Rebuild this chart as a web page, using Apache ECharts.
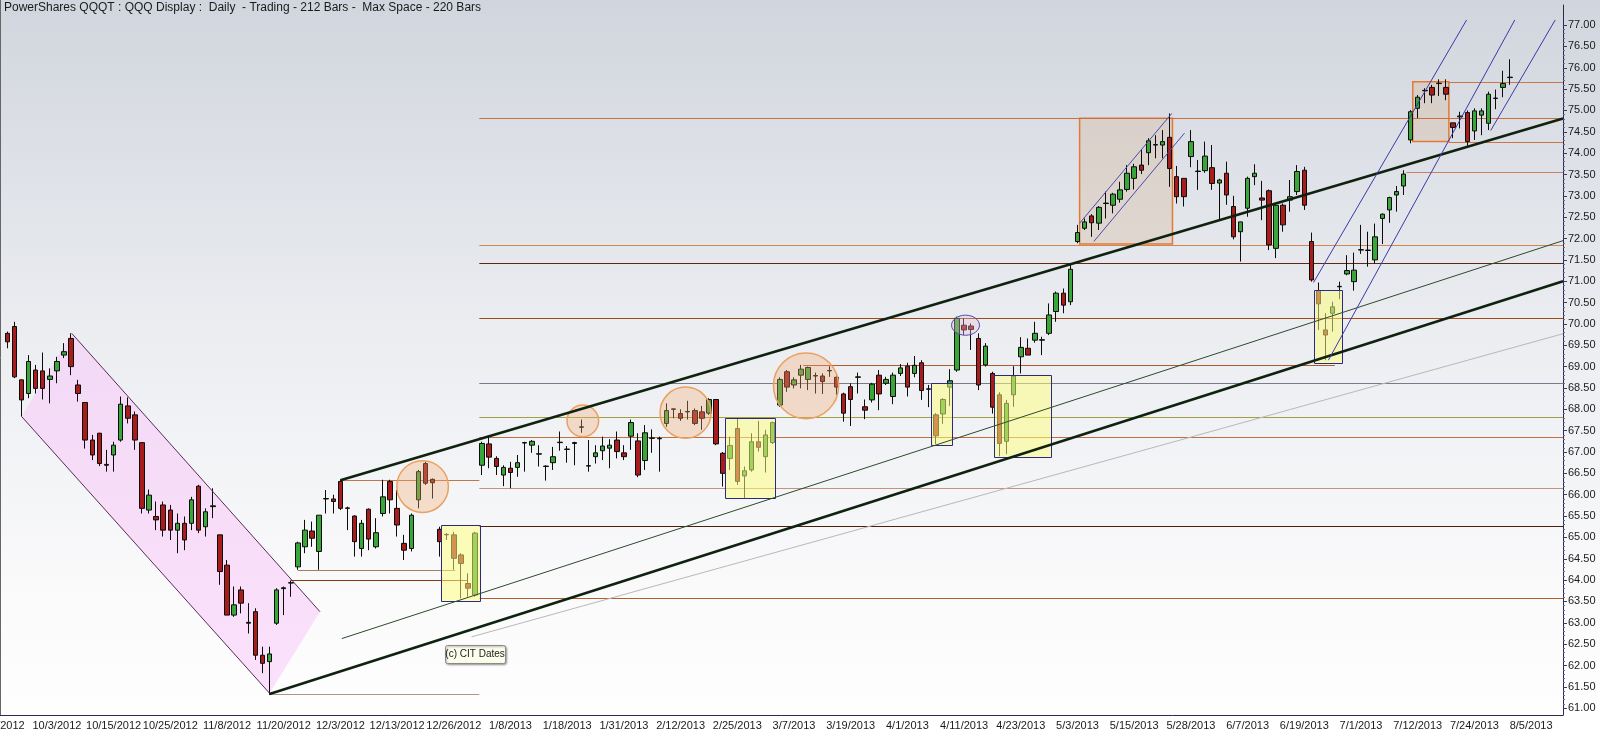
<!DOCTYPE html>
<html><head><meta charset="utf-8">
<script src="https://cdn.jsdelivr.net/npm/echarts@6/dist/echarts.min.js"></script>
<style>html,body{margin:0;padding:0;width:1600px;height:736px;overflow:hidden;background:#fff}#c{width:1600px;height:736px}</style>
</head><body><div id="c"></div>
<script>
// ---------- DATA ----------
const dates = ["9/21/2012","9/24/2012","9/25/2012","9/26/2012","9/27/2012","9/28/2012","10/1/2012","10/2/2012","10/3/2012","10/4/2012","10/5/2012","10/8/2012","10/9/2012","10/10/2012","10/11/2012","10/12/2012","10/15/2012","10/16/2012","10/17/2012","10/18/2012","10/19/2012","10/22/2012","10/23/2012","10/24/2012","10/25/2012","10/26/2012","10/31/2012","11/1/2012","11/2/2012","11/5/2012","11/6/2012","11/7/2012","11/8/2012","11/9/2012","11/12/2012","11/13/2012","11/14/2012","11/15/2012","11/16/2012","11/19/2012","11/20/2012","11/21/2012","11/23/2012","11/26/2012","11/27/2012","11/28/2012","11/29/2012","11/30/2012","12/3/2012","12/4/2012","12/5/2012","12/6/2012","12/7/2012","12/10/2012","12/11/2012","12/12/2012","12/13/2012","12/14/2012","12/17/2012","12/18/2012","12/19/2012","12/20/2012","12/21/2012","12/24/2012","12/26/2012","12/27/2012","12/28/2012","12/31/2012","1/2/2013","1/3/2013","1/4/2013","1/7/2013","1/8/2013","1/9/2013","1/10/2013","1/11/2013","1/14/2013","1/15/2013","1/16/2013","1/17/2013","1/18/2013","1/22/2013","1/23/2013","1/24/2013","1/25/2013","1/28/2013","1/29/2013","1/30/2013","1/31/2013","2/1/2013","2/4/2013","2/5/2013","2/6/2013","2/7/2013","2/8/2013","2/11/2013","2/12/2013","2/13/2013","2/14/2013","2/15/2013","2/19/2013","2/20/2013","2/21/2013","2/22/2013","2/25/2013","2/26/2013","2/27/2013","2/28/2013","3/1/2013","3/4/2013","3/5/2013","3/6/2013","3/7/2013","3/8/2013","3/11/2013","3/12/2013","3/13/2013","3/14/2013","3/15/2013","3/18/2013","3/19/2013","3/20/2013","3/21/2013","3/22/2013","3/25/2013","3/26/2013","3/27/2013","3/28/2013","4/1/2013","4/2/2013","4/3/2013","4/4/2013","4/5/2013","4/8/2013","4/9/2013","4/10/2013","4/11/2013","4/12/2013","4/15/2013","4/16/2013","4/17/2013","4/18/2013","4/19/2013","4/22/2013","4/23/2013","4/24/2013","4/25/2013","4/26/2013","4/29/2013","4/30/2013","5/1/2013","5/2/2013","5/3/2013","5/6/2013","5/7/2013","5/8/2013","5/9/2013","5/10/2013","5/13/2013","5/14/2013","5/15/2013","5/16/2013","5/17/2013","5/20/2013","5/21/2013","5/22/2013","5/23/2013","5/24/2013","5/28/2013","5/29/2013","5/30/2013","5/31/2013","6/3/2013","6/4/2013","6/5/2013","6/6/2013","6/7/2013","6/10/2013","6/11/2013","6/12/2013","6/13/2013","6/14/2013","6/17/2013","6/18/2013","6/19/2013","6/20/2013","6/21/2013","6/24/2013","6/25/2013","6/26/2013","6/27/2013","6/28/2013","7/1/2013","7/2/2013","7/3/2013","7/5/2013","7/8/2013","7/9/2013","7/10/2013","7/11/2013","7/12/2013","7/15/2013","7/16/2013","7/17/2013","7/18/2013","7/19/2013","7/22/2013","7/23/2013","7/24/2013","7/25/2013","7/26/2013","7/29/2013","7/30/2013","7/31/2013","8/1/2013","8/2/2013","8/5/2013","8/6/2013","8/7/2013","8/8/2013","8/9/2013"];

// bars start at 9/24/2012 (category index 1)
const opens = [69.78,69.94,68.69,68.37,68.92,68.90,68.70,68.90,69.27,69.66,68.57,68.16,67.28,67.44,66.71,66.93,67.28,68.08,67.87,67.22,65.64,65.49,65.76,65.64,65.17,65.33,65.33,66.20,65.25,65.72,65.06,64.35,63.18,63.77,62.99,63.26,62.24,62.09,62.99,63.80,63.93,64.31,64.78,65.15,64.67,65.90,65.90,66.31,65.68,65.50,64.74,65.66,64.78,65.56,66.31,65.68,64.86,64.74,65.88,66.73,66.36,65.19,65.06,65.06,64.59,63.92,63.65,66.69,67.19,66.85,66.46,66.62,66.64,67.22,67.16,66.95,66.66,66.75,67.22,67.06,67.22,67.58,66.67,66.89,67.03,67.09,67.28,66.98,67.37,67.26,66.80,67.32,67.32,67.67,68.00,67.90,67.94,67.97,67.94,67.91,68.23,66.97,66.85,67.55,66.44,66.58,67.24,66.89,67.22,68.10,68.88,68.57,68.80,68.70,68.78,68.78,68.90,68.75,68.36,68.53,68.75,68.06,68.22,68.80,68.61,68.30,68.84,69.01,68.84,69.09,68.47,67.87,67.89,68.52,68.92,69.97,69.95,69.66,69.04,68.84,68.34,67.25,68.34,69.23,69.43,69.62,69.62,69.78,70.29,70.72,70.52,71.93,72.24,72.53,72.36,72.82,72.78,72.92,73.15,73.41,73.72,74.01,74.19,74.19,74.37,73.45,73.41,73.92,73.57,73.59,73.66,73.30,73.53,72.75,72.16,72.71,73.45,72.95,73.12,71.77,72.78,72.90,73.10,73.60,71.93,70.78,69.86,70.25,70.87,71.17,70.99,71.73,71.73,71.50,72.47,72.67,73.02,73.23,74.31,75.05,75.46,75.54,75.63,75.54,74.71,74.85,74.95,74.52,74.89,74.70,75.28,75.54,75.77];
const highs = [69.82,70.05,68.70,69.27,69.04,69.33,68.96,69.23,69.55,69.78,68.69,68.16,67.40,67.45,67.05,67.24,68.30,68.28,67.95,67.22,66.12,65.84,65.84,65.76,65.56,65.49,65.95,66.23,65.68,66.15,65.06,64.47,63.85,63.85,63.46,63.34,62.44,62.44,63.81,63.85,63.99,64.90,65.41,65.37,65.52,66.11,66.00,66.35,65.72,65.52,65.41,65.68,65.45,66.35,66.35,66.11,65.06,65.56,66.58,66.77,66.38,65.25,65.10,65.13,64.63,64.16,65.13,67.24,67.36,66.90,66.69,66.77,66.93,67.24,67.28,67.16,66.69,67.12,67.48,67.14,67.24,67.76,67.28,67.16,67.36,67.30,67.48,67.16,67.76,67.44,67.63,67.53,67.36,68.14,68.02,68.00,68.20,68.02,68.08,68.26,68.23,67.00,67.36,67.79,66.66,67.44,67.73,67.52,67.71,68.75,68.92,68.75,69.04,69.00,68.86,68.84,69.01,68.80,68.39,68.61,68.86,68.23,68.62,68.92,68.76,68.86,69.06,69.09,69.25,69.15,68.57,67.91,68.26,68.94,70.17,70.13,70.01,69.78,69.55,68.88,68.40,68.22,69.01,69.69,69.66,70.05,69.70,70.48,70.76,70.83,71.42,72.32,72.47,72.57,72.76,73.10,73.07,73.33,73.72,73.75,74.09,74.35,74.42,74.54,74.93,73.70,73.41,74.54,73.84,74.27,74.19,73.40,73.80,73.00,72.39,73.45,73.74,73.35,73.15,72.84,72.82,73.37,73.72,73.68,72.14,70.97,70.25,70.52,70.99,71.61,71.67,72.32,72.16,72.35,72.59,72.98,73.23,73.60,75.01,75.36,75.52,75.60,75.73,75.73,74.71,74.97,75.00,75.05,75.05,75.44,75.49,75.93,76.20];
const lows = [69.43,68.73,67.83,68.26,68.37,68.23,68.14,68.61,69.20,68.80,68.18,67.08,66.81,66.67,66.54,66.54,67.24,67.67,67.05,65.56,65.56,65.17,65.02,64.94,64.63,64.70,65.17,65.10,65.02,65.45,63.89,63.18,63.14,63.22,62.75,62.13,61.82,61.31,62.95,63.18,63.61,64.24,64.63,64.78,64.24,65.56,65.56,65.64,65.17,64.55,64.55,64.70,64.74,65.49,65.56,65.02,64.47,64.67,65.68,66.23,65.91,64.55,64.94,64.24,63.57,63.61,63.61,66.46,66.62,66.46,66.20,66.15,66.42,66.54,66.98,66.66,66.33,66.58,67.03,66.75,66.69,67.45,66.54,66.73,66.81,66.62,66.85,66.81,67.05,66.41,66.58,66.98,66.54,67.59,67.79,67.73,67.76,67.63,67.52,67.87,67.16,66.19,66.58,66.23,65.92,66.54,67.01,66.52,67.19,68.06,68.41,68.49,68.49,68.45,68.37,68.36,68.76,68.34,67.71,67.61,68.37,67.77,68.16,67.98,68.57,68.12,68.78,68.30,68.75,68.22,68.05,67.19,67.66,68.08,68.88,69.74,69.39,68.45,69.00,67.90,66.90,66.95,68.06,68.84,69.27,69.56,69.27,69.74,70.05,70.25,70.44,71.89,72.20,72.04,72.20,72.47,72.59,72.84,73.10,73.15,73.51,73.72,73.88,73.88,73.21,72.82,72.75,73.67,73.14,73.54,73.14,72.43,72.79,71.98,71.46,72.51,73.25,72.43,71.73,71.54,72.16,72.63,73.02,72.67,70.99,69.86,69.15,69.82,70.58,71.14,70.78,71.64,71.34,71.42,71.87,72.37,72.63,73.02,74.23,74.82,75.17,75.17,75.34,75.24,74.35,74.58,74.17,74.31,74.42,74.54,75.03,75.31,75.60];
const closes = [69.58,68.76,68.22,69.12,68.49,68.49,68.78,69.12,69.35,69.00,68.37,67.28,66.93,66.73,66.69,67.16,68.12,67.79,67.28,65.68,65.99,65.41,65.17,65.17,65.33,64.94,65.88,65.17,65.60,65.74,64.20,63.18,63.42,63.46,63.01,62.24,62.05,62.27,63.77,63.82,63.94,64.87,65.17,64.98,65.52,65.91,65.84,65.68,65.69,64.90,65.33,64.96,65.11,65.95,65.88,65.29,64.70,65.52,66.54,66.27,66.28,64.90,65.07,64.51,64.39,63.81,65.10,67.20,66.88,66.66,66.64,66.52,66.75,67.21,67.25,66.96,66.67,66.89,67.23,67.07,67.20,67.59,66.68,66.98,67.14,67.16,67.01,66.89,67.69,66.46,67.45,67.33,67.31,67.97,68.01,67.79,67.95,67.67,67.79,68.23,67.19,66.50,67.15,66.31,66.56,67.24,67.11,67.40,67.69,68.70,68.52,68.69,68.94,68.98,68.79,68.65,68.91,68.52,67.91,68.23,68.76,67.98,68.59,68.36,68.70,68.80,68.97,68.52,69.03,68.44,68.48,67.38,68.23,68.67,70.13,69.86,69.87,68.57,69.48,68.05,67.20,68.14,68.78,69.45,69.27,69.78,69.63,70.21,70.72,70.44,71.28,72.14,72.39,72.37,72.73,72.83,73.04,73.14,73.53,73.68,73.60,74.29,74.20,74.27,73.64,72.98,72.98,74.27,73.58,73.93,73.29,73.37,73.02,72.04,72.39,73.41,73.53,72.90,71.85,72.78,72.32,72.98,73.57,72.78,71.03,70.47,69.74,70.40,70.88,71.25,71.26,71.74,71.72,72.04,72.57,72.96,73.10,73.51,74.97,75.31,75.47,75.36,75.64,75.38,74.60,74.87,74.27,74.99,74.99,75.38,75.29,75.63,75.78];
const firstBar = 1;
const yTickMin = 61, yTickMax = 77, yTickStep = 0.5;

// ---------- ANNOTATIONS (data coords: x = bar index, y = price) ----------
const X_END = 220.5;
const hLines = [ // x1, x2, price, color
  [38.0, 67.6, 61.33, '#a89a88'],
  [48.0, 67.6, 66.34, '#c07848'],
  [42.0, 64.2, 64.23, '#a08060'],
  [41.0, 66.0, 64.00, '#8a3a10'],
  [67.6, X_END, 63.57, '#b06030'],
  [67.6, X_END, 65.27, '#4a2008'],
  [67.6, X_END, 66.15, '#c89080'],
  [67.6, X_END, 67.34, '#c07040'],
  [67.6, X_END, 67.82, '#a0a040'],
  [67.6, X_END, 68.62, '#7a7a8a'],
  [113.3, 188.3, 69.03, '#b05a30'],
  [67.6, X_END, 70.15, '#a04818'],
  [67.6, X_END, 71.42, '#602810'],
  [67.6, X_END, 71.86, '#d08850'],
  [67.6, X_END, 74.82, '#c87040'],
  [198.4, X_END, 73.57, '#c88060'],
  [204.4, X_END, 74.27, '#c87848'],
  [204.4, X_END, 75.67, '#c87848']
];
const trendLines = [ // x1, y1, x2, y2, color, width
  [38.0, 61.33, X_END, 71.00, '#0f220f', 2.6],
  [48.0, 66.34, X_END, 74.81, '#0f220f', 2.6],
  [48.2, 62.63, X_END, 71.95, '#2d4a2d', 1],
  [66.5, 62.67, X_END, 69.77, '#b8b8b8', 1],
  [185.3, 70.97, 206.9, 77.12, '#3a3aa8', 1],
  [187.4, 69.15, 213.7, 77.12, '#3a3aa8', 1],
  [210.3, 74.53, 219.4, 77.12, '#3a3aa8', 1],
  [152.3, 72.36, 165.3, 74.93, '#4a4ab0', 1],
  [154.3, 71.93, 167.1, 74.47, '#4a4ab0', 1]
];
const pinkChannel = [[10.09, 69.78], [45.12, 63.26], [38.0, 61.35], [3.03, 67.83]];
const orangeBoxes = [[152.3, 165.4, 71.87, 74.82], [199.3, 204.4, 74.27, 75.67]];
const yellowBoxes = [
  [62.2, 67.7, 63.50, 65.29],
  [102.2, 109.3, 65.92, 67.79],
  [131.3, 134.2, 67.16, 68.61],
  [140.2, 148.3, 66.88, 68.80],
  [185.4, 189.4, 69.09, 70.79]
];
const circles = [ // cx, cy, rx (bars), ry (price)
  [59.6, 66.19, 3.64, 0.605],
  [82.2, 67.73, 2.23, 0.37],
  [96.7, 67.92, 3.6, 0.60],
  [113.7, 68.55, 4.6, 0.77]
];
const ovals = [[136.2, 69.97, 1.97, 0.235]];
const noteLabel = [67.0, 62.27, '(c) CIT Dates'];

// ---------- BUILD ----------
const candleData = dates.map((d, i) => {
  const k = i - firstBar;
  if (k < 0 || k >= opens.length) return '-';
  return [opens[k], closes[k], lows[k], highs[k]];
});

function renderBack(params, api) {
  const P = (x, v) => api.coord([x, v]);
  const ch = [];
  ch.push({type: 'polygon', shape: {points: pinkChannel.map(p => P(p[0], p[1]))},
    style: {fill: 'rgba(248,200,248,0.55)', stroke: null}});
  orangeBoxes.forEach(b => {
    const a = P(b[0], b[3]), c = P(b[1], b[2]);
    ch.push({type: 'rect', shape: {x: a[0], y: a[1], width: c[0] - a[0], height: c[1] - a[1]},
      style: {fill: 'rgba(214,184,156,0.35)', stroke: '#e27a34', lineWidth: 1.5}});
  });
  hLines.forEach(l => {
    const a = P(l[0], l[2]), c = P(l[1], l[2]);
    ch.push({type: 'line', shape: {x1: a[0], y1: Math.round(a[1]) + 0.5, x2: c[0], y2: Math.round(a[1]) + 0.5},
      style: {stroke: l[3], lineWidth: 1.2}});
  });
  return {type: 'group', children: ch};
}

function renderFront(params, api) {
  const P = (x, v) => api.coord([x, v]);
  const ch = [];
  [[0, 1], [3, 2]].forEach(e => {
    const a = P(pinkChannel[e[0]][0], pinkChannel[e[0]][1]);
    const c = P(pinkChannel[e[1]][0], pinkChannel[e[1]][1]);
    ch.push({type: 'line', shape: {x1: a[0], y1: a[1], x2: c[0], y2: c[1]}, style: {stroke: '#5a2a5a', lineWidth: 1}});
  });
  yellowBoxes.forEach(b => {
    const a = P(b[0], b[3]), c = P(b[1], b[2]);
    ch.push({type: 'rect', shape: {x: Math.round(a[0]) + 0.5, y: Math.round(a[1]) + 0.5, width: Math.round(c[0] - a[0]), height: Math.round(c[1] - a[1])},
      style: {fill: 'rgba(255,255,125,0.52)', stroke: '#2a2a80', lineWidth: 1}});
  });
  circles.forEach(c => {
    const o = P(c[0], c[1]);
    const sz = api.size([c[2], c[3]]);
    ch.push({type: 'ellipse', shape: {cx: o[0], cy: o[1], rx: sz[0], ry: sz[1]},
      style: {fill: 'rgba(244,170,112,0.33)', stroke: '#eaa060', lineWidth: 1.5}});
  });
  ovals.forEach(c => {
    const o = P(c[0], c[1]);
    const sz = api.size([c[2], c[3]]);
    ch.push({type: 'ellipse', shape: {cx: o[0], cy: o[1], rx: sz[0], ry: sz[1]},
      style: {fill: 'rgba(236,190,205,0.35)', stroke: '#4a4ab8', lineWidth: 1}});
  });
  trendLines.forEach(l => {
    const a = P(l[0], l[1]), c = P(l[2], l[3]);
    ch.push({type: 'line', shape: {x1: a[0], y1: a[1], x2: c[0], y2: c[1]}, style: {stroke: l[4], lineWidth: l[5]}});
  });
  const t = P(noteLabel[0], noteLabel[1]);
  ch.push({type: 'rect', shape: {x: Math.round(t[0] - 30) + 0.5, y: Math.round(t[1] - 9) + 0.5, width: 60, height: 18, r: 2},
    style: {fill: '#fdfdec', stroke: '#8a8a8a', lineWidth: 1, shadowBlur: 2, shadowOffsetX: 1, shadowOffsetY: 1, shadowColor: 'rgba(0,0,0,0.35)'}});
  ch.push({type: 'text', style: {x: t[0], y: t[1] + 0.5, text: noteLabel[2], fill: '#1a1a1a', font: '10px "Liberation Sans", Arial, sans-serif', align: 'center', verticalAlign: 'middle'}});
  return {type: 'group', children: ch};
}

const FONT = '"Liberation Sans", Arial, sans-serif';
const chart = echarts.init(document.getElementById('c'), null, {renderer: 'canvas', width: 1600, height: 736});
chart.setOption({
  animation: false,
  backgroundColor: {type: 'linear', x: 0, y: 0, x2: 0, y2: 1, colorStops: [
    {offset: 0, color: '#d1d5dd'}, {offset: 0.45, color: '#ebedf1'}, {offset: 0.8, color: '#fafafb'}, {offset: 1, color: '#ffffff'}]},
  title: {text: 'PowerShares QQQT : QQQ Display :  Daily  - Trading - 212 Bars -  Max Space - 220 Bars',
    left: 4, top: 2, padding: 0, textStyle: {fontSize: 12, fontWeight: 'normal', color: '#1a1a1a', fontFamily: FONT}},
  grid: [
    {left: -3.35, right: 37, top: 5, bottom: 21, containLabel: false, outerBoundsMode: 'none'},
    {left: -3.35, right: 37, top: 25.07, bottom: 27.8, containLabel: false, outerBoundsMode: 'none'}
  ],
  xAxis: [
    {type: 'category', gridIndex: 0, data: dates, boundaryGap: true,
      axisLine: {onZero: false, lineStyle: {color: '#2a2a50', width: 1}},
      axisTick: {interval: 1, alignWithLabel: true, length: 4, lineStyle: {color: '#3a3a50'}},
      axisLabel: {interval: 7, fontSize: 11, color: '#1a1a1a', fontFamily: FONT, margin: 5, hideOverlap: false},
      splitLine: {show: false}},
    {type: 'value', gridIndex: 0, min: -0.5, max: dates.length - 0.5, show: false},
    {type: 'value', gridIndex: 1, min: 0, max: 1, show: false}
  ],
  yAxis: [
    {type: 'value', gridIndex: 0, position: 'right', min: 60.84, max: 77.47, scale: true,
      axisLine: {show: true, onZero: false, lineStyle: {color: '#2a2a50'}}, axisTick: {show: false}, axisLabel: {show: false}, splitLine: {show: false}},
    {type: 'value', gridIndex: 1, position: 'right', min: yTickMin, max: yTickMax, interval: yTickStep,
      axisLine: {show: false, onZero: false}, axisTick: {show: true, length: 4, lineStyle: {color: '#3a3a60'}},
      minorTick: {show: true, splitNumber: 5, length: 2, lineStyle: {color: '#6a6a90'}},
      axisLabel: {margin: 5, fontSize: 11, color: '#1a1a1a', fontFamily: FONT, formatter: v => v.toFixed(2)},
      splitLine: {show: false}}
  ],
  graphic: [{type: 'line', shape: {x1: 0.5, y1: 0, x2: 0.5, y2: 715}, style: {stroke: '#666', lineWidth: 1}, z: 100}],
  series: [
    {type: 'custom', xAxisIndex: 1, yAxisIndex: 0, data: [[100, 70]], renderItem: renderBack, z: 1, silent: true},
    {type: 'candlestick', xAxisIndex: 0, yAxisIndex: 0, data: candleData, barWidth: 5, z: 2,
      itemStyle: {color: '#38a638', color0: '#a81c1c', borderColor: '#0c0c0c', borderColor0: '#0c0c0c', borderWidth: 1}},
    {type: 'custom', xAxisIndex: 1, yAxisIndex: 0, data: [[100, 70]], renderItem: renderFront, z: 3, silent: true}
  ]
});
</script></body></html>
